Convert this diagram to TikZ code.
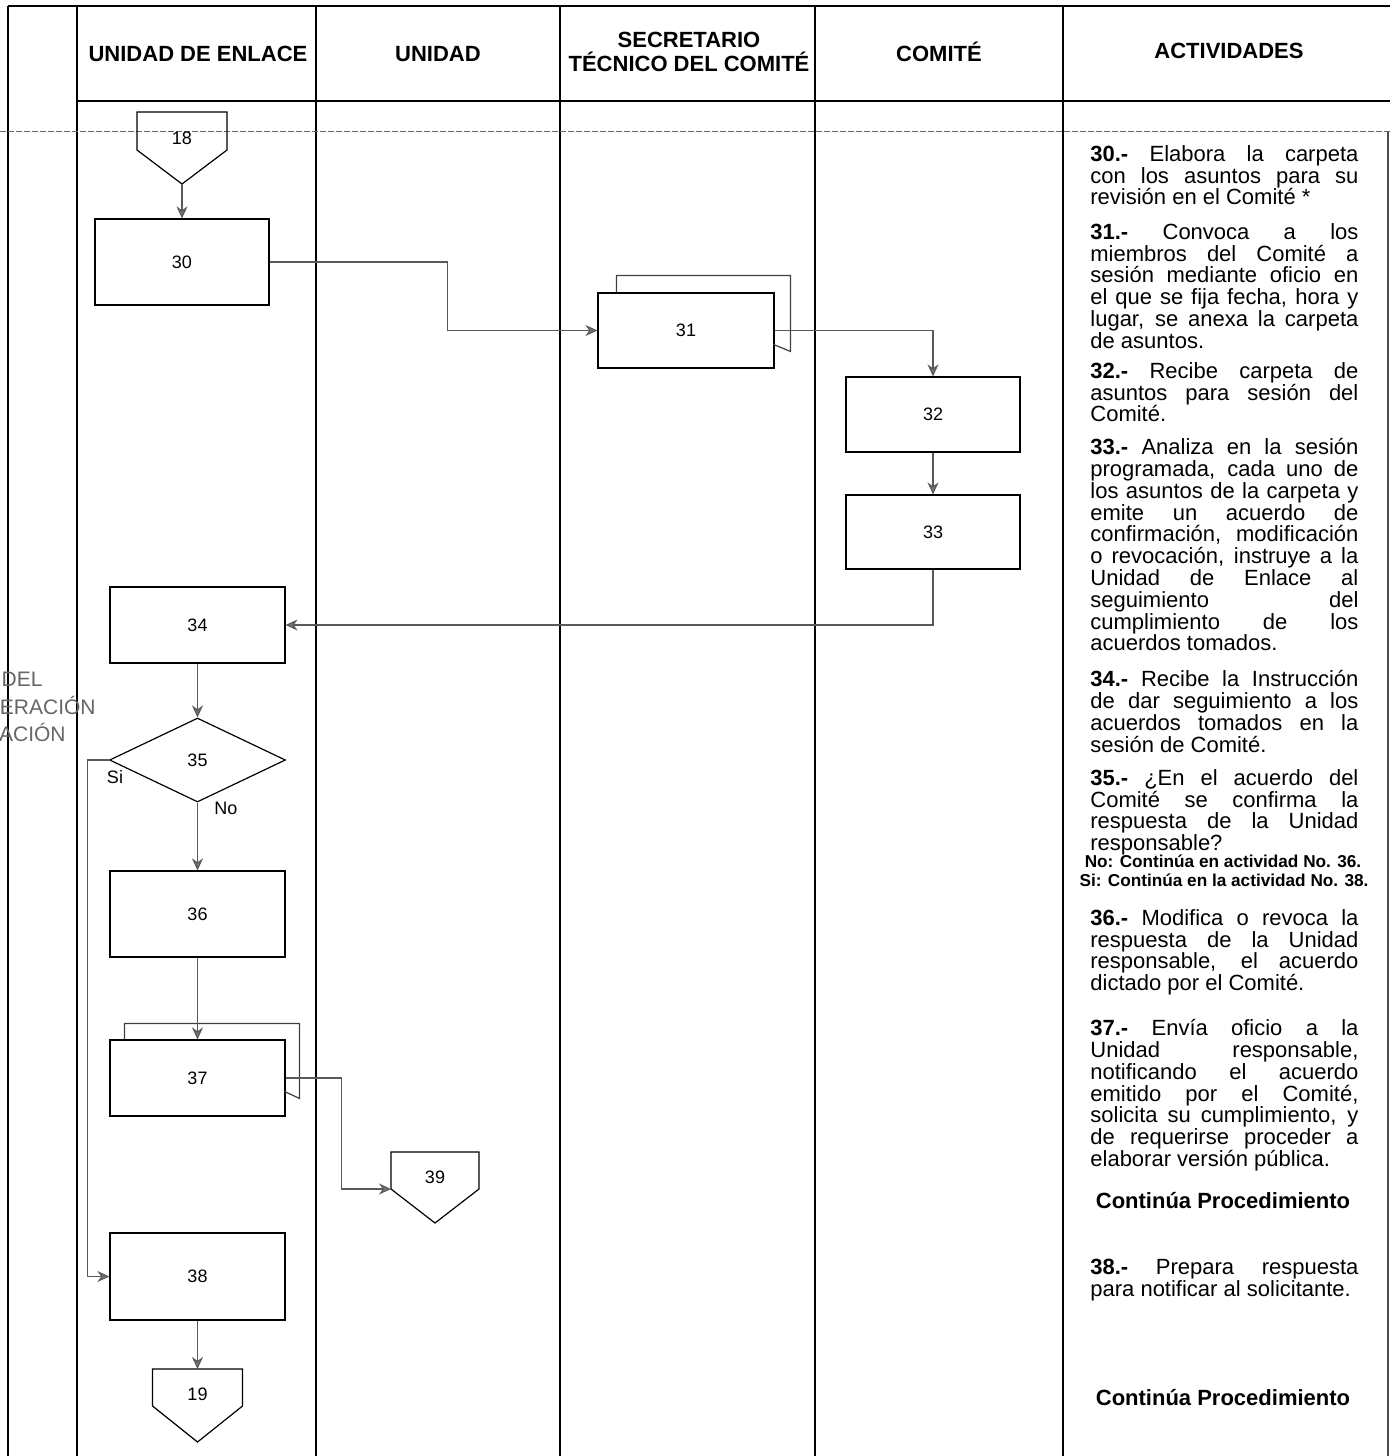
\documentclass[tikz,border=0pt]{standalone}
\usepackage{fontspec}
\setmainfont{Liberation Sans}
\usetikzlibrary{arrows.meta,shapes.geometric,calc}
\tolerance=10000 \hbadness=10000 \hyphenpenalty=10000 \exhyphenpenalty=10000
\parindent=0pt
\begin{document}
\begin{tikzpicture}[x=0.5pt,y=-0.5pt,
  grid/.style={line width=0.6pt, black},
  box/.style={draw, line width=0.6pt, minimum width=87.5pt, inner sep=0pt, fill=white, font=\fontsize{9}{10}\selectfont},
  shp/.style={draw, line width=0.6pt},
  conn/.style={draw=black!65, line width=0.55pt, -{Stealth[length=6pt,width=5.5pt,fill=black!55]}},
  head/.style={font=\bfseries\fontsize{11}{13}\selectfont, align=center, inner sep=0pt},
  act/.style={anchor=north west, inner sep=0pt, text width=134pt, align=justify, font=\fontsize{11}{10.9}\selectfont},
  note/.style={inner sep=0pt, font=\bfseries\fontsize{8.6}{9}\selectfont},
  cont/.style={inner sep=0pt, font=\bfseries\fontsize{11}{13}\selectfont},
  lbl/.style={inner sep=0pt, font=\fontsize{9}{10}\selectfont},
  ghost/.style={inner sep=0pt, text=black!60, font=\fontsize{10.5}{12}\selectfont}]
\useasboundingbox (0,0) rectangle (1390,1456);

% ---------- frame ----------
\draw[grid, line width=1pt] (8,6) -- (1390,6);
\draw[grid] (8,6) -- (8,1456);
\draw[grid] (77,6) -- (77,1456);
\draw[grid] (316,6) -- (316,1456);
\draw[grid, line width=0.8pt] (560,6) -- (560,1456);
\draw[grid] (815,6) -- (815,1456);
\draw[grid] (1063,6) -- (1063,1456);
\draw[black!70, line width=0.6pt] (1388,131) -- (1388,1456);
\draw[grid] (77,101) -- (1390,101);
\draw[black!60, line width=0.4pt, dash pattern=on 3pt off 1pt] (0,131) -- (1390,131);

% ---------- headers ----------
\node[head] (h1) at (198,54) {UNIDAD DE ENLACE};
\node[head] (h2) at (438,54) {UNIDAD};
\node[head] (h3) at (689,52) {SECRETARIO\\[-1pt]TÉCNICO DEL COMITÉ};
\node[head] (h4) at (939,52) {COMITÉ};
\node[head] (h5) at (1229,51) {ACTIVIDADES};

% ---------- ghost text at left edge ----------
\node[ghost, anchor=base east] (g1) at (43,686) {DEL};
\node[ghost, anchor=base east] (g2) at (96,714) {ERACIÓN};
\node[ghost, anchor=base east] (g3) at (66,741) {ACIÓN};

% ---------- off-page connector 18 ----------
\draw[shp] (137,112) -- (227,112) -- (227,150) -- (182,184) -- (137,150) -- cycle;
\node[lbl] (n18) at (182,138) {18};
\coordinate (t18) at (182,184);

% ---------- boxes ----------
\node[box, minimum width=87pt, minimum height=43pt] (b30) at (182,262) {30};
\node[box, minimum width=88pt, minimum height=37.5pt] (b31) at (686,330.5) {31};
\draw[shp, black!75] ($(b31.north west)+(19,0)$) -- ++(0,-17) -- ++(174,0) -- ++(0,76) -- ++(-17,-7);
\node[box, minimum width=87pt, minimum height=37.5pt] (b32) at (933,414.5) {32};
\node[box, minimum width=87pt, minimum height=37pt] (b33) at (933,532) {33};
\node[box, minimum height=38pt] (b34) at (197.5,625) {34};
\node[draw, line width=0.6pt, diamond, minimum width=88pt, minimum height=42pt, inner sep=0pt, font=\fontsize{9}{10}\selectfont] (d35) at (197.5,760) {35};
\node[lbl] (si) at (115,777) {Si};
\node[lbl] (no) at (226,808) {No};
\node[box, minimum height=43pt] (b36) at (197.5,914) {36};
\node[box, minimum height=38pt] (b37) at (197.5,1078) {37};
\draw[shp, black!75] ($(b37.north west)+(15,0)$) -- ++(0,-16) -- ++(175,0) -- ++(0,75) -- ++(-15,-7);
\node[box, minimum height=43.5pt] (b38) at (197.5,1276.5) {38};

% ---------- off-page connector 39 ----------
\draw[shp] (391,1152) -- (479,1152) -- (479,1189) -- (435,1223) -- (391,1189) -- cycle;
\node[lbl] (n39) at (435,1177) {39};
\coordinate (w39) at (391,1189);

% ---------- off-page connector 19 ----------
\draw[shp] (152.5,1369) -- (242.5,1369) -- (242.5,1406) -- (197.5,1442) -- (152.5,1406) -- cycle;
\node[lbl] (n19) at (197.5,1394) {19};
\coordinate (c19) at (197.5,1369);

% ---------- connectors ----------
\draw[conn] (t18) -- (b30.north);
\draw[conn] (b30.east) -- ++(178,0) |- (b31.west);
\draw[conn] (b31.east) -| (b32.north);
\draw[conn] (b32.south) -- (b33.north);
\draw[conn] (b33.south) |- (b34.east);
\draw[conn] (b34.south) -- (d35.north);
\draw[conn] (d35.west) -- ++(-21,0) |- (b38.west);
\draw[conn] (d35.south) -- (b36.north);
\draw[conn] (b36.south) -- (b37.north);
\draw[conn] (b37.east) -- ++(56,0) |- (w39);
\draw[conn] (b38.south) -- (c19);

% ---------- activities ----------
\node[act] (a30) at (1090,145) {\textbf{30.-} Elabora la carpeta\linebreak con los asuntos para su\linebreak revisión en el Comité *};
\node[act] (a31) at (1090,223) {\textbf{31.-} Convoca a los\linebreak miembros del Comité a\linebreak sesión mediante oficio en\linebreak el que se fija fecha, hora y\linebreak lugar, se anexa la carpeta\linebreak de asuntos.};
\node[act] (a32) at (1090,362) {\textbf{32.-} Recibe carpeta de\linebreak asuntos para sesión del\linebreak Comité.};
\node[act] (a33) at (1090,438) {\textbf{33.-} Analiza en la sesión\linebreak programada, cada uno de\linebreak los asuntos de la carpeta y\linebreak emite un acuerdo de\linebreak confirmación, modificación\linebreak o revocación, instruye a la\linebreak Unidad de Enlace al\linebreak seguimiento del\linebreak cumplimiento de los\linebreak acuerdos tomados.};
\node[act] (a34) at (1090,670) {\textbf{34.-} Recibe la Instrucción\linebreak de dar seguimiento a los\linebreak acuerdos tomados en la\linebreak sesión de Comité.};
\node[act] (a35) at (1090,769) {\textbf{35.-} ¿En el acuerdo del\linebreak Comité se confirma la\linebreak respuesta de la Unidad\linebreak responsable?};
\node[note] (n35a) at (1223,861) {No: Continúa en actividad No. 36.};
\node[note] (n35b) at (1224,880) {Si: Continúa en la actividad No. 38.};
\node[act] (a36) at (1090,909) {\textbf{36.-} Modifica o revoca la\linebreak respuesta de la Unidad\linebreak responsable, el acuerdo\linebreak dictado por el Comité.};
\node[act] (a37) at (1090,1019) {\textbf{37.-} Envía oficio a la\linebreak Unidad responsable,\linebreak notificando el acuerdo\linebreak emitido por el Comité,\linebreak solicita su cumplimiento, y\linebreak de requerirse proceder a\linebreak elaborar versión pública.};
\node[cont] (k1) at (1223,1201) {Continúa Procedimiento};
\node[act] (a38) at (1090,1259) {\textbf{38.-} Prepara respuesta\linebreak para notificar al solicitante.};
\node[cont] (k2) at (1223,1398) {Continúa Procedimiento};
\end{tikzpicture}
\end{document}
